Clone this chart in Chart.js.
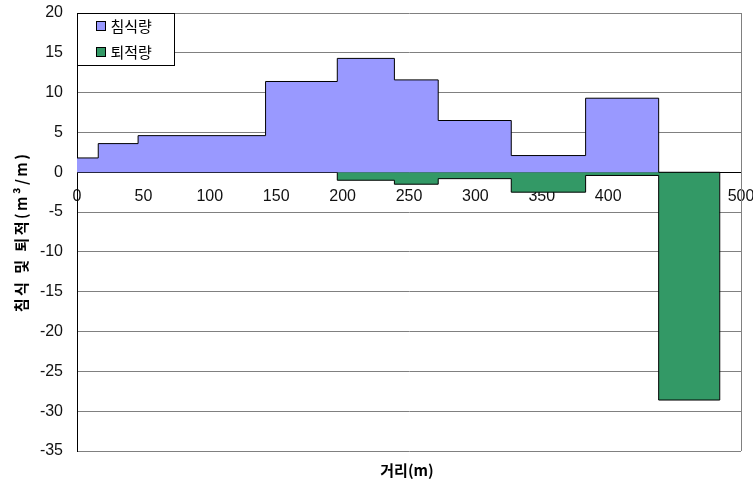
<!DOCTYPE html>
<html>
<head>
<meta charset="utf-8">
<script src="https://cdn.jsdelivr.net/npm/chart.js@4"></script>
<style>
  html, body { margin: 0; padding: 0; background: #fff; }
  #wrap { width: 753px; height: 490px; position: relative; }
</style>
</head>
<body>
<div id="wrap"><canvas id="chart"></canvas></div>
<script>
// distance (m) where each step begins
const distance = [0, 16, 46, 142, 196, 239, 272, 327, 383, 438, 484];
// erosion amount per step (m3/m)
const erosion = [1.8, 3.6, 4.6, 11.4, 14.3, 11.6, 6.5, 2.1, 9.3, 0, 0];
// deposition amount per step (m3/m)
const deposition = [0, 0, 0, 0, -1.0, -1.5, -0.8, -2.5, -0.4, -28.6, 0];

const seriesNames = ["침식량", "퇴적량"];
const seriesColors = ["#9999FF", "#339966"];
const yTitle = "침식 및 퇴적(m³/m)";
const xTitle = "거리(m)";

const tickFont = { family: "'Liberation Sans', Arial, sans-serif", size: 16 };
const krFont = "'Noto Sans CJK KR', 'Noto Sans', sans-serif";

function toPoints(values) {
  return distance.map((d, i) => ({ x: d, y: values[i] }));
}

// legend box + axis titles + right border
const decorations = {
  id: "decorations",
  afterDraw(chart) {
    const ctx = chart.ctx;
    const area = chart.chartArea;
    ctx.save();

    // right border of plot area
    ctx.strokeStyle = "#808080";
    ctx.lineWidth = 1;
    ctx.beginPath();
    ctx.moveTo(Math.round(area.right) + 0.5, area.top);
    ctx.lineTo(Math.round(area.right) + 0.5, area.bottom);
    ctx.stroke();

    // legend
    const lx = Math.round(area.left) + 0.5;
    const ly = Math.round(area.top) + 0.5;
    ctx.fillStyle = "#fff";
    ctx.fillRect(lx, ly, 97, 52);
    ctx.strokeStyle = "#000";
    ctx.strokeRect(lx, ly, 97, 52);
    chart.data.datasets.forEach((ds, i) => {
      const cy = ly + 12.5 + i * 26;
      ctx.fillStyle = ds.backgroundColor;
      ctx.fillRect(lx + 19, cy - 4.5, 9, 9);
      ctx.strokeRect(lx + 19, cy - 4.5, 9, 9);
      ctx.fillStyle = "#000";
      ctx.font = "15px " + krFont;
      ctx.textBaseline = "middle";
      ctx.textAlign = "left";
      ctx.fillText(ds.label, lx + 33, cy);
    });

    // axis titles
    ctx.fillStyle = "#000";
    ctx.font = "bold 15px " + krFont;
    ctx.textAlign = "center";
    ctx.textBaseline = "middle";
    ctx.fillText(xTitle, 407, 470);

    ctx.translate(21, (area.top + area.bottom) / 2);
    ctx.rotate(-Math.PI / 2);
    ctx.letterSpacing = "2.5px";
    ctx.fillText(yTitle, 0, 0);
    ctx.restore();
  }
};

new Chart(document.getElementById("chart"), {
  type: "line",
  data: {
    datasets: [
      {
        label: seriesNames[0],
        data: toPoints(erosion),
        backgroundColor: seriesColors[0],
        borderColor: "#000",
        borderWidth: 1,
        stepped: true,
        fill: "origin",
        pointRadius: 0
      },
      {
        label: seriesNames[1],
        data: toPoints(deposition),
        backgroundColor: seriesColors[1],
        borderColor: "#000",
        borderWidth: 1,
        stepped: true,
        fill: "origin",
        pointRadius: 0
      }
    ]
  },
  options: {
    responsive: true,
    maintainAspectRatio: false,
    animation: false,
    layout: { padding: { left: 0, right: 12, top: 13, bottom: 39 } },
    plugins: {
      legend: { display: false },
      tooltip: { enabled: false }
    },
    scales: {
      x: {
        type: "linear",
        position: { y: 0 },
        min: 0,
        max: 500,
        z: 1,
        ticks: { stepSize: 50, color: "#111", font: tickFont, padding: 15, maxRotation: 0 },
        grid: { drawOnChartArea: false, drawTicks: false },
        border: { color: "#000", width: 1 },
        afterFit(scale) {
          scale.paddingLeft = 0;
          scale.paddingRight = 0;
        }
      },
      y: {
        min: -35,
        max: 20,
        ticks: { stepSize: 5, color: "#111", font: tickFont, padding: 14 },
        grid: { color: "#808080", drawTicks: false },
        border: { color: "#000", width: 1 },
        afterFit(scale) {
          scale.width = 77;
          scale.paddingTop = 0;
          scale.paddingBottom = 0;
        }
      }
    }
  },
  plugins: [decorations]
});
</script>
</body>
</html>
